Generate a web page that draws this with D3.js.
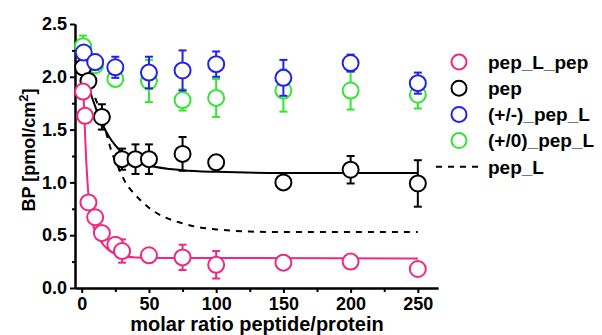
<!DOCTYPE html>
<html>
<head>
<meta charset="utf-8">
<script src="https://cdn.jsdelivr.net/npm/d3@7"></script>
<style>
  body { margin: 0; background: #fff; }
  text { font-family: "Liberation Sans", Arial, sans-serif; font-weight: bold; fill: #000; }
</style>
</head>
<body>
<div id="chart"></div>
<script>
// data
const pinkX = [1, 2.5, 5, 10, 15, 25, 30, 50, 75, 100, 150, 200, 250];
const pinkY = [1.86, 1.63, 0.81, 0.67, 0.52, 0.41, 0.35, 0.31, 0.29, 0.22, 0.24, 0.25, 0.18];
const pinkErr = [0.03, 0.03, 0.03, 0.03, 0.04, 0.06, 0.11, 0.05, 0.12, 0.13, 0.02, 0.02, 0.02];

const blackX = [1, 5, 15, 30, 40, 50, 75, 100, 150, 200, 250];
const blackY = [2.09, 1.96, 1.62, 1.22, 1.22, 1.22, 1.27, 1.19, 1.0, 1.12, 0.99];
const blackErr = [0.03, 0.04, 0.12, 0.1, 0.14, 0.14, 0.16, 0.05, 0.04, 0.13, 0.22];

const blueX = [1.5, 10, 25, 50, 75, 100, 150, 200, 250];
const blueY = [2.23, 2.14, 2.09, 2.04, 2.06, 2.12, 1.99, 2.13, 1.94];
const blueErr = [0.05, 0.07, 0.1, 0.15, 0.19, 0.12, 0.17, 0.08, 0.1];

const greenX = [1, 10, 25, 50, 75, 100, 150, 200, 250];
const greenY = [2.29, 2.11, 1.98, 1.96, 1.78, 1.8, 1.87, 1.87, 1.83];
const greenErr = [0.1, 0.05, 0.07, 0.2, 0.1, 0.18, 0.2, 0.18, 0.13];

// fitted curves
const pinkFitX = [1, 2, 3, 5, 8, 12, 16, 20, 25, 30, 40, 60, 250];
const pinkFitY = [1.95, 1.6, 1.3, 0.88, 0.62, 0.49, 0.41, 0.36, 0.32, 0.30, 0.29, 0.285, 0.28];
const blackFitX = [0, 3, 6, 10, 15, 20, 25, 30, 40, 50, 75, 100, 150, 250];
const blackFitY = [2.12, 2.0, 1.87, 1.72, 1.56, 1.44, 1.35, 1.28, 1.2, 1.16, 1.115, 1.1, 1.09, 1.09];
const dashFitX = [10, 15, 18, 22, 28, 33, 40, 50, 60, 73, 85, 100, 125, 150, 250];
const dashFitY = [1.8, 1.62, 1.48, 1.3, 1.12, 0.99, 0.88, 0.76, 0.68, 0.62, 0.58, 0.555, 0.535, 0.53, 0.53];

const xTicks = [0, 50, 100, 150, 200, 250];
const yTicks = [0, 0.5, 1.0, 1.5, 2.0, 2.5];

const COLORS = { pink: "#f0287e", black: "#000000", blue: "#2222e6", green: "#33e633" };

const WIDTH = 602;
const HEIGHT = 335;
const R = 8;

const svg = d3.select("#chart").append("svg")
    .attr("width", WIDTH)
    .attr("height", HEIGHT);

const x = d3.scaleLinear().domain([-5, 265]).range([75, 438]);
const y = d3.scaleLinear().domain([0, 2.5]).range([288, 24]);

// axes
const xAxis = d3.axisBottom(x).tickValues(xTicks).tickSize(5).tickSizeOuter(0).tickPadding(4).tickFormat(d3.format("d"));
const xMinor = d3.axisBottom(x).tickValues([25, 75, 125, 175, 225]).tickSize(4).tickSizeOuter(0).tickFormat("");
const yAxis = d3.axisLeft(y).tickValues(yTicks).tickSize(5).tickSizeOuter(0).tickPadding(3).tickFormat(d3.format(".1f"));
const yMinor = d3.axisLeft(y).tickValues([0.25, 0.75, 1.25, 1.75, 2.25]).tickSize(3).tickSizeOuter(0).tickFormat("");

function styleAxis(g) {
    g.select(".domain").attr("stroke-width", 2);
    g.selectAll(".tick line").attr("stroke-width", 2);
    g.selectAll(".tick text").style("font-size", "18px").style("font-family", "'Liberation Sans', Arial, sans-serif").style("font-weight", "bold");
}

svg.append("g").attr("transform", "translate(0,288)").call(xMinor).call(styleAxis);
svg.append("g").attr("transform", "translate(0,288)").call(xAxis).call(styleAxis);
svg.append("g").attr("transform", "translate(75,0)").call(yMinor).call(styleAxis);
svg.append("g").attr("transform", "translate(75,0)").call(yAxis).call(styleAxis);

// axis titles
svg.append("text")
    .attr("x", 257)
    .attr("y", 331)
    .attr("text-anchor", "middle")
    .style("font-size", "20px")
    .text("molar ratio peptide/protein");

const yTitle = svg.append("text")
    .attr("transform", "translate(35,150) rotate(-90)")
    .attr("text-anchor", "middle")
    .style("font-size", "18px");
yTitle.append("tspan").text("BP [pmol/cm");
yTitle.append("tspan").attr("dy", -7).style("font-size", "13px").text("2");
yTitle.append("tspan").attr("dy", 7).text("]");

// fitted lines
const line = d3.line().x(d => x(d[0])).y(d => y(d[1])).curve(d3.curveMonotoneX);

svg.append("path")
    .datum(d3.zip(dashFitX, dashFitY))
    .attr("d", line)
    .attr("fill", "none")
    .attr("stroke", "#000")
    .attr("stroke-width", 2)
    .attr("stroke-dasharray", "6,6");

svg.append("path")
    .datum(d3.zip(blackFitX, blackFitY))
    .attr("d", line)
    .attr("fill", "none")
    .attr("stroke", COLORS.black)
    .attr("stroke-width", 2);

svg.append("path")
    .datum(d3.zip(pinkFitX, pinkFitY))
    .attr("d", line)
    .attr("fill", "none")
    .attr("stroke", COLORS.pink)
    .attr("stroke-width", 2);

// points with error bars
function drawSeries(xs, ys, errs, color) {
    const data = d3.zip(xs, ys, errs);
    const g = svg.append("g");
    const eb = g.selectAll(".err").data(data).enter().append("g")
        .attr("stroke", color).attr("stroke-width", 2);
    eb.append("line")
        .attr("x1", d => x(d[0])).attr("x2", d => x(d[0]))
        .attr("y1", d => y(d[1] + d[2])).attr("y2", d => y(d[1] - d[2]));
    eb.append("line")
        .attr("x1", d => x(d[0]) - 4).attr("x2", d => x(d[0]) + 4)
        .attr("y1", d => y(d[1] + d[2])).attr("y2", d => y(d[1] + d[2]));
    eb.append("line")
        .attr("x1", d => x(d[0]) - 4).attr("x2", d => x(d[0]) + 4)
        .attr("y1", d => y(d[1] - d[2])).attr("y2", d => y(d[1] - d[2]));
    g.selectAll("circle").data(data).enter().append("circle")
        .attr("cx", d => x(d[0]))
        .attr("cy", d => y(d[1]))
        .attr("r", R)
        .attr("fill", "#fff")
        .attr("stroke", color)
        .attr("stroke-width", 2);
}

drawSeries(greenX, greenY, greenErr, COLORS.green);
drawSeries(blackX, blackY, blackErr, COLORS.black);
drawSeries(blueX, blueY, blueErr, COLORS.blue);
drawSeries(pinkX, pinkY, pinkErr, COLORS.pink);

// legend
const legendNames = ["pep_L_pep", "pep", "(+/-)_pep_L", "(+/0)_pep_L", "pep_L"];
const legendColors = [COLORS.pink, COLORS.black, COLORS.blue, COLORS.green, null];

const legend = svg.append("g");
legendNames.forEach((name, i) => {
    const cy = 62 + i * 26.2;
    if (legendColors[i]) {
        legend.append("circle")
            .attr("cx", 459).attr("cy", cy).attr("r", 7.5)
            .attr("fill", "none")
            .attr("stroke", legendColors[i])
            .attr("stroke-width", 2);
    } else {
        legend.append("line")
            .attr("x1", 436).attr("x2", 478).attr("y1", cy).attr("y2", cy)
            .attr("stroke", "#000").attr("stroke-width", 2)
            .attr("stroke-dasharray", "6,6");
    }
    legend.append("text")
        .attr("x", 488).attr("y", cy).attr("dy", "0.36em")
        .style("font-size", "19px")
        .text(name);
});
</script>
</body>
</html>
